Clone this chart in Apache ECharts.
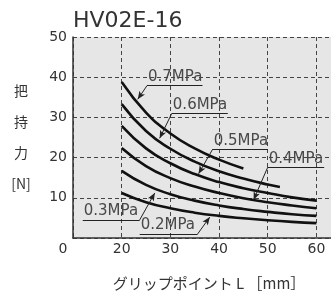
<!DOCTYPE html>
<html lang="ja">
<head>
    <meta charset="UTF-8">
    <title>HV02E-16</title>
    <script src="https://cdn.jsdelivr.net/npm/echarts@6/dist/echarts.min.js"></script>
    <style>
        html, body { margin: 0; padding: 0; background: #fff; }
        #chart { width: 331px; height: 296px; }
    </style>
</head>
<body>
    <div id="chart"></div>
    <script>
        // grip point L [mm]
        const xFull = [20, 25, 30, 35, 40, 45, 50, 55, 60]
        const x07 = [20, 25, 30, 35, 40, 45]
        const x06 = [20, 25, 30, 35, 40, 45, 50, 52.5]

        // gripping force [N]
        const f07 = [38.8, 31.2, 26.0, 22.3, 19.5, 17.3]
        const f06 = [33.3, 26.6, 22.2, 19.0, 16.6, 14.8, 13.3, 12.7]
        const f05 = [27.9, 22.3, 18.6, 15.9, 13.9, 12.4, 11.2, 10.1, 9.3]
        const f04 = [22.4, 17.9, 14.9, 12.8, 11.2, 9.9, 8.9, 8.1, 7.4]
        const f03 = [16.7, 13.2, 10.9, 9.3, 8.1, 7.2, 6.5, 5.9, 5.5]
        const f02 = [11.2, 8.9, 7.4, 6.3, 5.5, 4.9, 4.4, 4.0, 3.7]

        const pressures = ['0.7MPa', '0.6MPa', '0.5MPa', '0.4MPa', '0.3MPa', '0.2MPa']
        const xTicks = [20, 30, 40, 50, 60]
        const yTicks = [10, 20, 30, 40, 50]

        const font = '"DejaVu Sans", "Noto Sans CJK JP", sans-serif'
        const cjk = '"Noto Sans CJK JP", sans-serif'
        const ink = '#333'

        // callouts: underline from u0 to u1 at height uy, leader from 'from' end to tip
        const callouts = [
            { u0: 25.2, u1: 36.6, uy: 37.9, from: 'start', tip: [23.3, 34.5] },
            { u0: 30.3, u1: 41.8, uy: 31.0, from: 'start', tip: [27.8, 24.8] },
            { u0: 38.7, u1: 50.0, uy: 22.1, from: 'start', tip: [35.8, 16.0] },
            { u0: 50.0, u1: 61.6, uy: 17.6, from: 'start', tip: [47.1, 9.5] },
            { u0: 12.0, u1: 23.7, uy: 4.5, from: 'end', tip: [26.8, 11.2] },
            { u0: 23.7, u1: 35.6, uy: 1.0, from: 'end', tip: [38.1, 5.2] }
        ]

        const pairs = (xs, ys) => xs.map((x, i) => [x, ys[i]])
        const curves = [
            pairs(x07, f07), pairs(x06, f06), pairs(xFull, f05),
            pairs(xFull, f04), pairs(xFull, f03), pairs(xFull, f02)
        ]

        const makeSeries = (data, i) => {
            const c = callouts[i]
            const fx = c.from === 'start' ? c.u0 : c.u1
            return {
                name: pressures[i],
                type: 'line',
                data: data,
                smooth: true,
                symbol: 'none',
                lineStyle: { color: '#111', width: 2.6 },
                silent: true,
                markLine: {
                    silent: true,
                    animation: false,
                    symbol: ['none', 'none'],
                    lineStyle: { color: '#222', width: 1, type: 'solid' },
                    data: [
                        [
                            {
                                coord: [c.u0, c.uy],
                                label: {
                                    show: true,
                                    formatter: pressures[i],
                                    position: 'insideStartTop',
                                    distance: [1, 1],
                                    color: '#484848',
                                    fontSize: 15,
                                    fontFamily: font
                                }
                            },
                            { coord: [c.u1, c.uy] }
                        ],
                        [
                            { coord: [fx, c.uy], label: { show: false } },
                            { coord: c.tip, symbol: 'arrow', symbolSize: [5, 8] }
                        ]
                    ]
                }
            }
        }

        const chart = echarts.init(document.getElementById('chart'))

        const option = {
            animation: false,
            backgroundColor: '#fff',
            title: {
                text: 'HV02E-16',
                left: 68,
                top: 5,
                textStyle: { fontSize: 22, fontWeight: 'normal', color: ink, fontFamily: font }
            },
            grid: {
                left: 73, top: 37, right: 0, bottom: 49,
                show: true, backgroundColor: '#e6e6e6', borderWidth: 0
            },
            xAxis: {
                type: 'value',
                min: 10, max: 63, interval: 10,
                name: 'グリップポイント L ［mm］',
                nameLocation: 'middle',
                nameGap: 38,
                nameTextStyle: { fontSize: 15, color: ink, fontFamily: cjk, padding: [0, 0, 0, 14] },
                axisLine: { lineStyle: { color: '#333', width: 1.5 } },
                axisTick: { show: false },
                axisLabel: {
                    margin: 4,
                    fontSize: 14,
                    color: ink,
                    fontFamily: font,
                    showMaxLabel: false,
                    formatter: v => v === 10 ? '{z|0}' : (xTicks.includes(v) ? String(v) : ''),
                    rich: { z: { fontSize: 14, color: ink, fontFamily: font, padding: [0, 20, 0, 0] } }
                },
                splitLine: {
                    show: true, showMaxLine: false,
                    lineStyle: { color: '#444', type: [4, 3], width: 1 }
                }
            },
            yAxis: {
                type: 'value',
                min: 0, max: 50, interval: 10,
                name: '把\n持\n力\n[N]',
                nameLocation: 'middle',
                nameRotate: 0,
                nameGap: 52,
                nameTextStyle: { fontSize: 14, color: ink, fontFamily: cjk, lineHeight: 31, align: 'center' },
                axisLine: { show: true, lineStyle: { color: '#333', width: 1.5 } },
                axisTick: { show: false },
                axisLabel: {
                    margin: 6,
                    fontSize: 14,
                    color: ink,
                    fontFamily: font,
                    formatter: v => yTicks.includes(v) ? String(v) : ''
                },
                splitLine: {
                    show: true,
                    lineStyle: { color: '#444', type: [4, 3], width: 1 }
                }
            },
            series: curves.map(makeSeries)
        }

        chart.setOption(option)
    </script>
</body>
</html>
